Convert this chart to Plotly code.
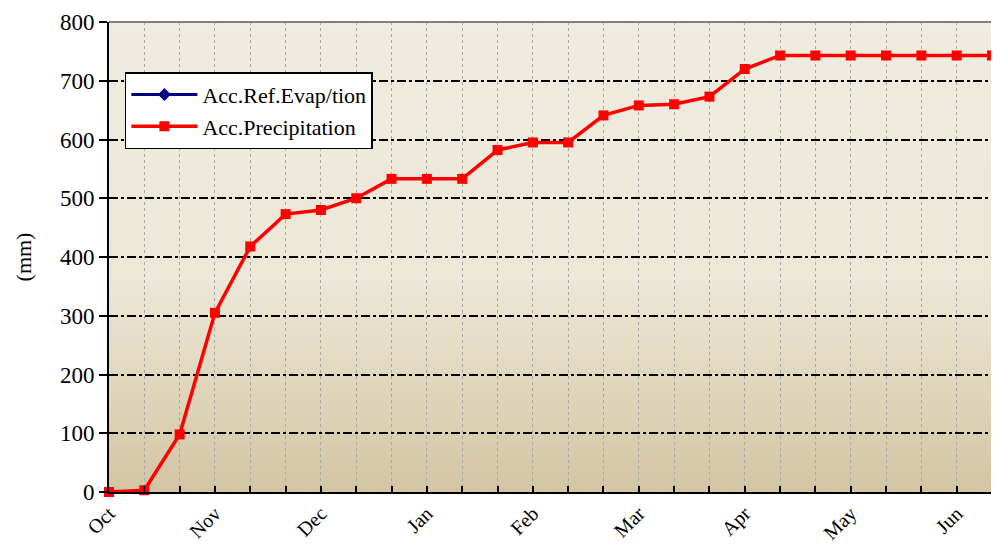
import plotly.graph_objects as go

dekads = [f"{m}-{d}" for m in ["Oct", "Nov", "Dec", "Jan", "Feb", "Mar", "Apr", "May", "Jun"] for d in (1, 2, 3)][:26]
month_labels = ["Oct", "Nov", "Dec", "Jan", "Feb", "Mar", "Apr", "May", "Jun"]
acc_precip = [0, 3, 98, 305, 418, 473, 480, 500, 533, 533, 533, 582, 595, 595,
              641, 658, 660, 673, 720, 743, 743, 743, 743, 743, 743, 743]
acc_evap = [None] * 26
y_ticks = [0, 100, 200, 300, 400, 500, 600, 700, 800]

ticktext = [month_labels[i // 3] if i % 3 == 0 else "" for i in range(len(dekads))]

FONT = "Liberation Serif"
fig = go.Figure()
fig.add_trace(go.Scatter(x=dekads, y=acc_evap, name="Acc.Ref.Evap/tion", mode="lines+markers",
                         line=dict(color="#000080", width=3), marker=dict(symbol="diamond", size=10, color="#000080")))
fig.add_trace(go.Scatter(x=dekads, y=acc_precip, name="Acc.Precipitation", mode="lines+markers",
                         line=dict(color="#FF0000", width=3.5), marker=dict(symbol="square", size=10, color="#FF0000"),
                         cliponaxis=False))

def lerp(c1, c2, t):
    return "#%02X%02X%02X" % tuple(round(a + (b - a) * t) for a, b in zip(c1, c2))

c_bot = (0xD3, 0xC5, 0xA3)
c_mid = (0xEC, 0xE7, 0xD6)
c_top = (0xEF, 0xEC, 0xE0)
shapes = []
N = 120
for i in range(N):
    y0 = i / N
    y1 = min(1.0, (i + 2) / N)
    t = (i + 0.5) / N
    if t < 0.45:
        col = lerp(c_bot, c_mid, t / 0.45)
    else:
        col = lerp(c_mid, c_top, (t - 0.45) / 0.55)
    shapes.append(dict(type="rect", xref="paper", yref="paper", x0=0, x1=1, y0=y0, y1=y1,
                       fillcolor=col, line=dict(width=0), layer="below"))
shapes.append(dict(type="line", xref="paper", yref="paper", x0=0, x1=1, y0=1, y1=1,
                   line=dict(color="#808080", width=2)))
shapes.append(dict(type="line", xref="paper", yref="paper", x0=1, x1=1, y0=0, y1=1,
                   line=dict(color="#808080", width=2)))

# page body has an 8px margin, so size/offset compensate for it
fig.update_layout(
    width=991, height=537,
    margin=dict(l=101, r=7, t=14, b=53),
    paper_bgcolor="white", plot_bgcolor="rgba(0,0,0,0)",
    font=dict(family=FONT, size=22, color="black"),
    shapes=shapes,
    showlegend=True,
    legend=dict(x=0.018, y=0.893, xanchor="left", yanchor="top", bgcolor="white",
                bordercolor="black", borderwidth=1.5, font=dict(family=FONT, size=22),
                itemwidth=66, tracegroupgap=0),
    xaxis=dict(type="category", categoryorder="array", categoryarray=dekads, automargin=False,
               range=[0, len(dekads) - 1], tickmode="array", tickvals=dekads, ticktext=ticktext,
               tickangle=-45, ticks="inside", ticklen=6, tickcolor="black", tickwidth=1.5,
               showline=True, linecolor="black", linewidth=2,
               showgrid=True, gridcolor="#A8A8A8", griddash="dot", gridwidth=1,
               tickfont=dict(family=FONT, size=20), zeroline=False),
    yaxis=dict(range=[0, 800], tickvals=y_ticks, ticks="outside", ticklen=8, tickcolor="black", tickwidth=1.5,
               automargin=False,
               showline=True, linecolor="black", linewidth=2,
               showgrid=True, gridcolor="black", griddash="dashdot", gridwidth=1.5,
               title=dict(text="(mm)", font=dict(family=FONT, size=22), standoff=22),
               tickfont=dict(family=FONT, size=23), zeroline=False),
)
fig.write_html("out.html")
